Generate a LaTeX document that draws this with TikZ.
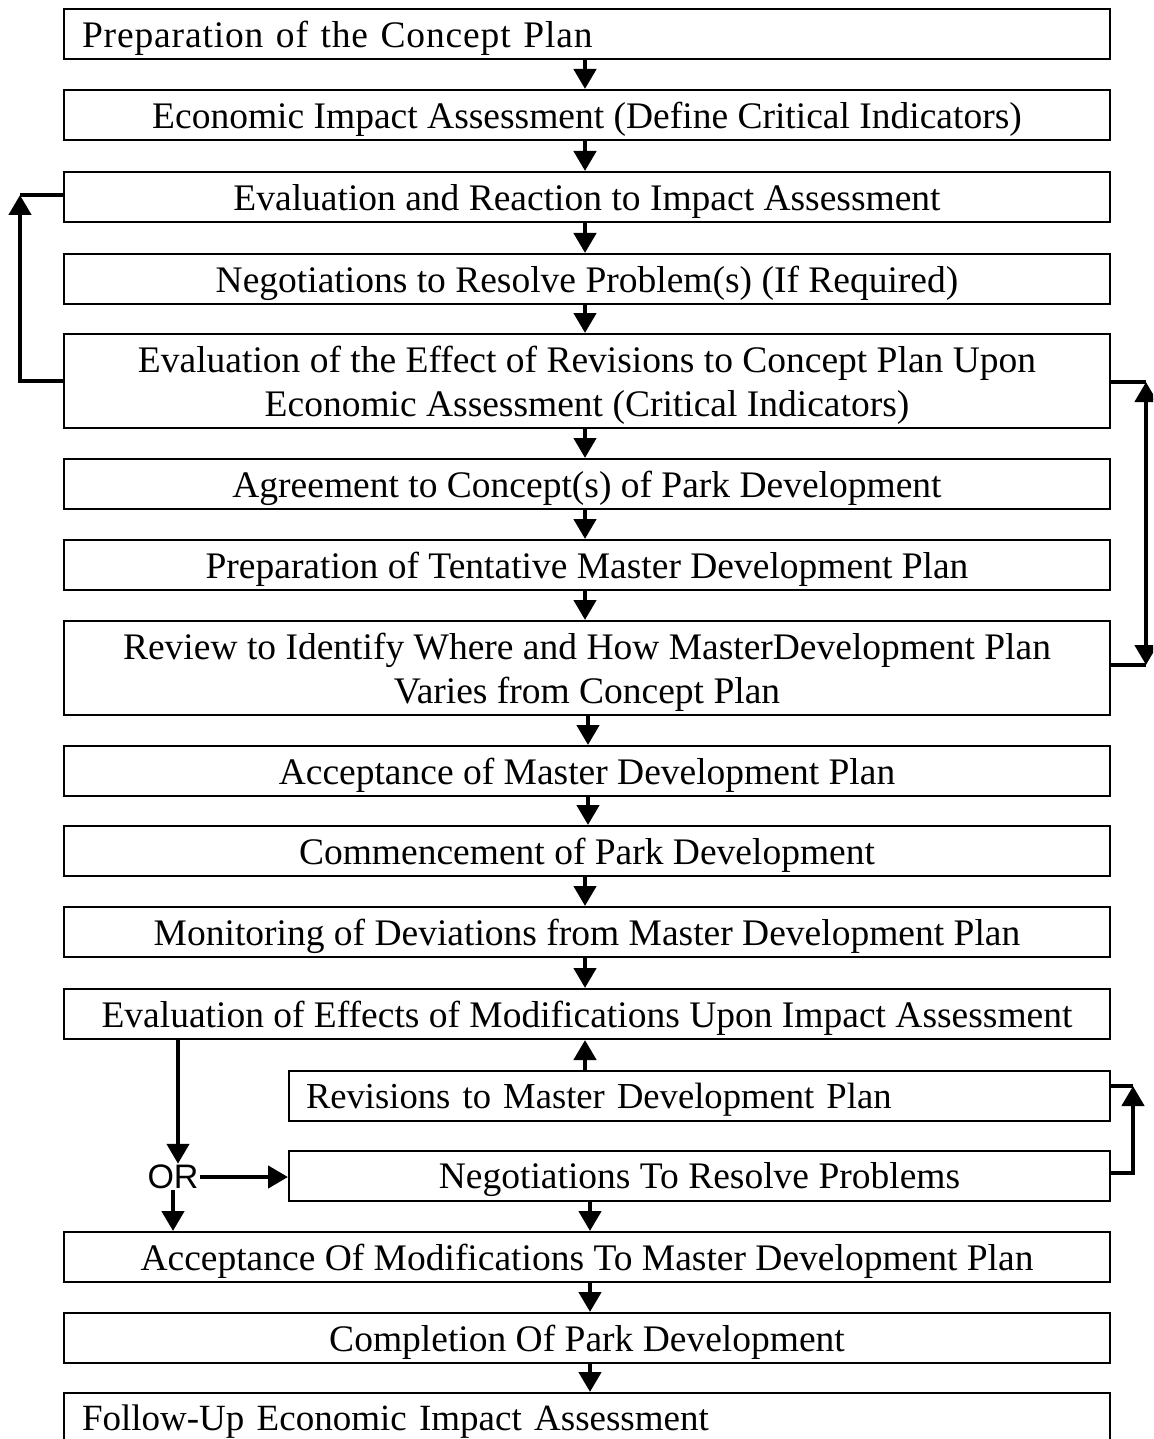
\documentclass[tikz,border=0pt]{standalone}
\usepackage{fontspec}
\setmainfont{Liberation Serif}
\newfontfamily\orfont{Liberation Sans}
\usetikzlibrary{arrows.meta}
\begin{document}
\begin{tikzpicture}[x=1pt,y=-1pt,
  box/.style={draw, line width=2pt, minimum width=1046pt, minimum height=50pt,
    inner sep=0pt, text depth=0pt, font=\fontsize{37.5}{44}\selectfont, align=center},
  tallbox/.style={box, minimum height=94pt},
  leftbox/.style={box, inner xsep=18pt, text width=1010pt, align=left},
  arr/.style={line width=4.5pt, -{Triangle[length=20pt,width=22pt]}},
  dbl/.style={line width=4.5pt, {Triangle[length=20pt,width=22pt]}-{Triangle[length=20pt,width=22pt]}},
  conn/.style={line width=4.5pt}
]
\useasboundingbox (0,0) rectangle (1153,1439);
\clip (0,0) rectangle (1153,1439);

\node[leftbox] (b1) at (587,34) {\addfontfeature{LetterSpace=2.3}Preparation of the Concept Plan};
\node[box] (b2) at (587,115) {Economic Impact Assessment (Define Critical Indicators)};
\node[box] (b3) at (587,197) {Evaluation and Reaction to Impact Assessment};
\node[box] (b4) at (587,279) {Negotiations to Resolve Problem(s) (If Required)};
\node[tallbox] (b5) at (587,381) {Evaluation of the Effect of Revisions to Concept Plan Upon\\Economic Assessment (Critical Indicators)};
\node[box] (b6) at (587,484) {Agreement to Concept(s) of Park Development};
\node[box] (b7) at (587,565) {Preparation of Tentative Master Development Plan};
\node[tallbox] (b8) at (587,668) {Review to Identify Where and How MasterDevelopment Plan\\Varies from Concept Plan};
\node[box] (b9) at (587,771) {Acceptance of Master Development Plan};
\node[box] (b10) at (587,851) {Commencement of Park Development};
\node[box] (b11) at (587,932) {Monitoring of Deviations from Master Development Plan};
\node[box] (b12) at (587,1014) {Evaluation of Effects of Modifications Upon Impact Assessment};
\node[box, minimum width=821pt, inner xsep=17pt, text width=787pt, align=left, font=\fontsize{36.6}{44}\selectfont] (b13) at (699.5,1095.5) {Revisions to Master Development Plan};
\node[box, minimum width=821pt] (b14) at (699.5,1175.5) {Negotiations To Resolve Problems};
\node[box] (b15) at (587,1257) {Acceptance Of Modifications To Master Development Plan};
\node[box] (b16) at (587,1338) {Completion Of Park Development};
\node[leftbox, font=\fontsize{37}{44}\selectfont] (b17) at (587,1418) {Follow-Up Economic Impact Assessment};

\node[font=\orfont\fontsize{34}{40}\selectfont, inner sep=1pt] (or) at (173,1177) {OR};

\coordinate (c1) at (585,0);
\coordinate (c2) at (588,0);
\coordinate (c3) at (590,0);

\draw[arr] (b1.south -| c1) -- (b2.north -| c1);
\draw[arr] (b2.south -| c1) -- (b3.north -| c1);
\draw[arr] (b3.south -| c1) -- (b4.north -| c1);
\draw[arr] (b4.south -| c1) -- (b5.north -| c1);
\draw[arr] (b5.south -| c1) -- (b6.north -| c1);
\draw[arr] (b6.south -| c1) -- (b7.north -| c1);
\draw[arr] (b7.south -| c1) -- (b8.north -| c1);
\draw[arr] (b8.south -| c2) -- (b9.north -| c2);
\draw[arr] (b9.south -| c2) -- (b10.north -| c2);
\draw[arr] (b10.south -| c1) -- (b11.north -| c1);
\draw[arr] (b11.south -| c1) -- (b12.north -| c1);
\draw[arr] (b13.north -| c1) -- (b12.south -| c1);
\draw[arr] (b14.south -| c3) -- (b15.north -| c3);
\draw[arr] (b15.south -| c3) -- (b16.north -| c3);
\draw[arr] (b16.south -| c3) -- (b17.north -| c3);

% left feedback loop
\coordinate (lc) at (20,195);
\draw[arr] (b5.west) -| (lc);
\draw[conn] (lc) -- (lc -| b3.west);

% right feedback loop
\coordinate (rt) at (1146,382);
\coordinate (rb) at (1146,665);
\draw[conn] (rt -| b5.east) -- (rt);
\draw[conn] (rb -| b8.east) -- (rb);
\draw[dbl] (rt) -- (rb);

% small right loop
\coordinate (srt) at (1133,1086);
\coordinate (srb) at (1133,1173);
\draw[conn] (srt -| b13.east) -- (srt);
\draw[arr] (srb -| b14.east) -- (srb) -- (srt);

% OR branch
\coordinate (orx) at (178,0);
\draw[arr] (b12.south -| orx) -- (or.north -| orx);
\draw[arr] (or.east) -- (or.east -| b14.west);
\draw[arr] (or.south) -- (or.south |- b15.north);
\end{tikzpicture}
\end{document}
